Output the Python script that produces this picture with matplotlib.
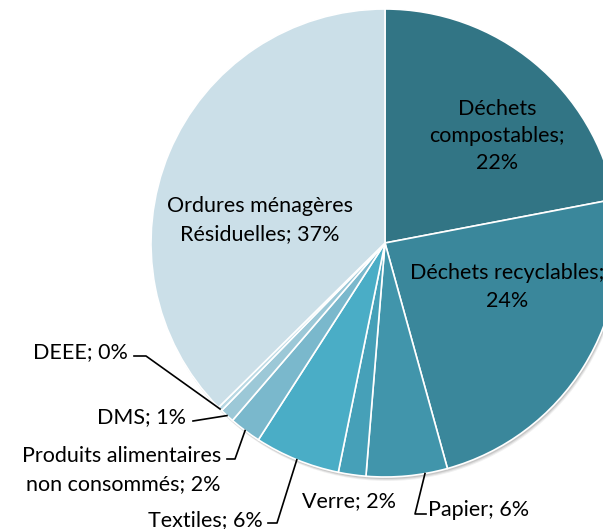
import numpy as np
import matplotlib.pyplot as plt
from matplotlib.patches import Circle

W, H = 603, 529

labels = ["Déchets\ncompostables;\n22%", "Déchets recyclables;\n24%", "Papier; 6%",
          "Verre; 2%", "Textiles; 6%", "Produits alimentaires\nnon consommés; 2%",
          "DMS; 1%", "DEEE; 0%", "Ordures ménagères\nRésiduelles; 37%"]
values = [22.0, 23.7, 5.6, 1.9, 5.9, 2.2, 1.0, 0.3, 37.4]
colors = ["#327585", "#3a879b", "#4195ab", "#46a0b8", "#4aadc6", "#7ab8cc",
          "#9cc8d7", "#b8d8e3", "#cbdfe8"]

plt.rcParams['font.family'] = ['Lato', 'DejaVu Sans']

fig = plt.figure(figsize=(W / 100, H / 100), dpi=100)
ax = fig.add_axes([0, 0, 1, 1])

cx, cy, r = 385, H - 243, 234


def py(y):
    # pixel row (top-down) to data y
    return H - y


# faint drop shadow under the pie
for k, a in [(4, 0.06), (3, 0.08), (2, 0.10)]:
    ax.add_patch(Circle((cx + k * 0.5, cy - k), r, color='black', alpha=a, lw=0, zorder=0))

wedges, _ = ax.pie(values, colors=colors, startangle=90, counterclock=False,
                   center=(cx, cy), radius=r, frame=True,
                   wedgeprops=dict(edgecolor='white', linewidth=1.2))
ax.set_xlim(0, W)
ax.set_ylim(0, H)
ax.axis('off')


def edge(i, frac=0.5, rr=1.0):
    w = wedges[i]
    a = np.deg2rad(w.theta1 + (w.theta2 - w.theta1) * frac)
    return cx + r * rr * np.cos(a), cy + r * rr * np.sin(a)


fs = 15.5
ls = 1.45
# labels inside
ax.text(497, py(136), labels[0], ha='center', va='center', fontsize=fs, linespacing=ls)
ax.text(507, py(287), labels[1], ha='center', va='center', fontsize=fs, linespacing=ls)
ax.text(260, py(220), labels[8], ha='center', va='center', fontsize=fs, linespacing=ls)

# outside labels with leader lines
lw = 1.2
# DEEE
ax.text(128, py(352), labels[7], ha='right', va='center', fontsize=fs)
ex, ey = edge(7)
ax.plot([134, 146, ex], [py(356), py(356), ey], color='black', lw=lw)
# DMS
ax.text(186, py(417), labels[6], ha='right', va='center', fontsize=fs)
ex, ey = edge(6)
ax.plot([193, ex], [py(421), ey], color='black', lw=lw)
# Produits alimentaires
ax.text(221, py(470), labels[5], ha='right', va='center', fontsize=fs, linespacing=ls)
ex, ey = edge(5)
ax.plot([227, 235, ex], [py(459), py(459), ey], color='black', lw=lw)
# Textiles
ax.text(263, py(520), labels[4], ha='right', va='center', fontsize=fs)
ex, ey = edge(4)
ax.plot([268, 277, ex], [py(523), py(523), ey], color='black', lw=lw)
# Verre
ax.text(349, py(501), labels[3], ha='center', va='center', fontsize=fs)
# Papier
ax.text(428, py(510), labels[2], ha='left', va='center', fontsize=fs)
ex, ey = edge(2, 0.72)
ax.plot([ex, 415, 426], [ey, py(514), py(514)], color='black', lw=lw)

fig.savefig("out.png", dpi=100)
